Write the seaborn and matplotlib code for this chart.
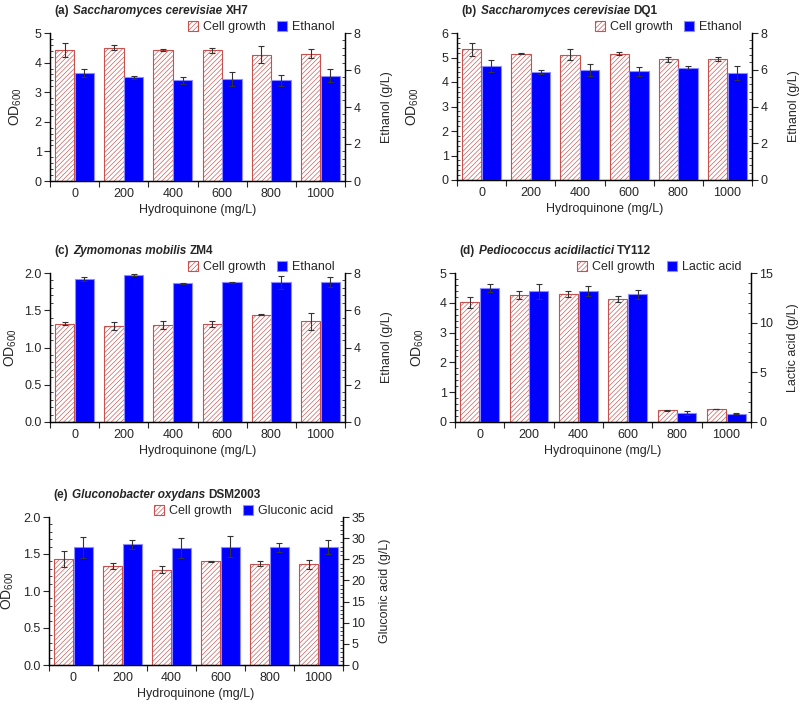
import numpy as np
import pandas as pd
import matplotlib
matplotlib.use('Agg')
import matplotlib.pyplot as plt
from matplotlib.patches import Patch
from matplotlib.ticker import MultipleLocator, FormatStrFormatter
import seaborn as sns

sns.set_style('ticks')
plt.rcParams['font.family'] = ['Liberation Sans', 'DejaVu Sans']
plt.rcParams['mathtext.fontset'] = 'custom'
plt.rcParams['mathtext.rm'] = 'Liberation Sans'
plt.rcParams['hatch.linewidth'] = 0.45

conc = ['0', '200', '400', '600', '800', '1000']

# (a) Saccharomyces cerevisiae XH7
a_od = [4.42, 4.51, 4.42, 4.41, 4.27, 4.30]
a_od_err = [0.24, 0.08, 0.03, 0.08, 0.28, 0.16]
a_prod = [5.83, 5.60, 5.45, 5.51, 5.45, 5.69]
a_prod_err = [0.22, 0.07, 0.18, 0.36, 0.29, 0.34]

# (b) Saccharomyces cerevisiae DQ1
b_od = [5.33, 5.16, 5.12, 5.16, 4.92, 4.93]
b_od_err = [0.25, 0.02, 0.22, 0.05, 0.12, 0.09]
b_prod = [6.20, 5.87, 5.99, 5.91, 6.11, 5.84]
b_prod_err = [0.31, 0.09, 0.33, 0.25, 0.09, 0.38]

# (c) Zymomonas mobilis ZM4
c_od = [1.32, 1.29, 1.30, 1.32, 1.44, 1.35]
c_od_err = [0.02, 0.05, 0.05, 0.04, 0.01, 0.11]
c_prod = [7.67, 7.89, 7.44, 7.51, 7.51, 7.51]
c_prod_err = [0.10, 0.05, 0.03, 0.03, 0.35, 0.27]

# (d) Pediococcus acidilactici TY112
d_od = [4.02, 4.26, 4.30, 4.13, 0.39, 0.43]
d_od_err = [0.19, 0.13, 0.11, 0.11, 0.01, 0.01]
d_prod = [13.48, 13.14, 13.18, 12.84, 0.91, 0.84]
d_prod_err = [0.40, 0.74, 0.47, 0.44, 0.17, 0.08]

# (e) Gluconobacter oxydans DSM2003
e_od = [1.43, 1.34, 1.29, 1.40, 1.37, 1.36]
e_od_err = [0.11, 0.04, 0.05, 0.01, 0.03, 0.06]
e_prod = [27.8, 28.5, 27.6, 28.0, 27.8, 27.9]
e_prod_err = [2.4, 1.1, 2.4, 2.5, 1.0, 1.7]

panels = [
    dict(tag='a', species='Saccharomyces cerevisiae', strain='XH7', product='Ethanol',
         od=a_od, od_err=a_od_err, prod=a_prod, prod_err=a_prod_err,
         rect=[50, 33, 295, 148], ylim=(5, 1, 0.2, '%d'), y2lim=(8, 2, 0.4), ylab=-34),
    dict(tag='b', species='Saccharomyces cerevisiae', strain='DQ1', product='Ethanol',
         od=b_od, od_err=b_od_err, prod=b_prod, prod_err=b_prod_err,
         rect=[457, 33, 295, 147], ylim=(6, 1, 0.2, '%d'), y2lim=(8, 2, 0.4), ylab=-44),
    dict(tag='c', species='Zymomonas mobilis', strain='ZM4', product='Ethanol',
         od=c_od, od_err=c_od_err, prod=c_prod, prod_err=c_prod_err,
         rect=[50, 273, 295, 149], ylim=(2, 0.5, 0.1, '%.1f'), y2lim=(8, 2, 0.4), ylab=-39),
    dict(tag='d', species='Pediococcus acidilactici', strain='TY112', product='Lactic acid',
         od=d_od, od_err=d_od_err, prod=d_prod, prod_err=d_prod_err,
         rect=[455, 273, 296, 149], ylim=(5, 1, 0.2, '%d'), y2lim=(15, 5, 1), ylab=-37),
    dict(tag='e', species='Gluconobacter oxydans', strain='DSM2003', product='Gluconic acid',
         od=e_od, od_err=e_od_err, prod=e_prod, prod_err=e_prod_err,
         rect=[49, 517, 294, 148], ylim=(2, 0.5, 0.1, '%.1f'), y2lim=(35, 5, 1), ylab=-41),
]

W, H = 800, 704
RED = '#C8504D'
BLUE = '#0000FF'
BLUE_EDGE = '#8C8CFF'
HATCH = '///////'
FS = 9
BW = 0.39  # width of one bar within a group

fig = plt.figure(figsize=(W / 100, H / 100), dpi=100)

for p in panels:
    x0, top, w, h = p['rect']
    ax = fig.add_axes([x0 / W, (H - top - h) / H, w / W, h / H])
    ax2 = ax.twinx()
    levels = ['Cell growth', p['product']]

    df_od = pd.DataFrame({'conc': conc, 'val': p['od']})
    df_pr = pd.DataFrame({'conc': conc, 'val': p['prod']})

    sns.barplot(data=df_od, x='conc', y='val', order=conc, color='white',
                saturation=1, width=BW, errorbar=None, ax=ax)
    sns.barplot(data=df_pr, x='conc', y='val', order=conc, color=BLUE,
                saturation=1, width=BW, errorbar=None, ax=ax2)

    # dodge: cell growth left half of the group, product right half
    for b in ax.patches:
        b.set_x(b.get_x() - 0.2)
        b.set_hatch(HATCH)
        b.set_edgecolor(RED)
        b.set_linewidth(0.8)
    for b in ax2.patches:
        b.set_x(b.get_x() + 0.2)
        b.set_edgecolor(BLUE_EDGE)
        b.set_linewidth(0.8)

    xc = [b.get_x() + b.get_width() / 2 for b in ax.patches]
    ax.errorbar(xc, p['od'], yerr=p['od_err'], fmt='none', ecolor='#333333',
                elinewidth=0.8, capsize=2, capthick=0.8)
    xc2 = [b.get_x() + b.get_width() / 2 for b in ax2.patches]
    ax2.errorbar(xc2, p['prod'], yerr=p['prod_err'], fmt='none', ecolor='#333333',
                 elinewidth=0.8, capsize=2, capthick=0.8)

    ymax, ymaj, ymin, yfmt = p['ylim']
    ax.set_ylim(0, ymax)
    ax.yaxis.set_major_locator(MultipleLocator(ymaj))
    ax.yaxis.set_minor_locator(MultipleLocator(ymin))
    ax.yaxis.set_major_formatter(FormatStrFormatter(yfmt))
    y2max, y2maj, y2min = p['y2lim']
    ax2.set_ylim(0, y2max)
    ax2.yaxis.set_major_locator(MultipleLocator(y2maj))
    ax2.yaxis.set_minor_locator(MultipleLocator(y2min))

    # x axis: ticks at group boundaries, labels at centres
    n = len(conc)
    ax.set_xlim(-0.5, n - 0.5)
    ax.set_xticks(np.arange(-0.5, n), labels=[''] * (n + 1))
    ax.set_xticks(np.arange(n), labels=conc, minor=True)
    ax.tick_params(axis='x', which='major', direction='out', length=4, width=0.8)
    ax.tick_params(axis='x', which='minor', length=0, labelsize=FS, pad=5)

    ax.tick_params(axis='y', which='major', direction='out', length=4, width=0.8, labelsize=FS, pad=2)
    ax.tick_params(axis='y', which='minor', direction='in', length=2.5, width=0.6)
    ax2.tick_params(axis='y', which='major', direction='out', length=4, width=0.8, labelsize=FS, pad=2)
    ax2.tick_params(axis='y', which='minor', direction='in', length=2.5, width=0.6)

    for a in (ax, ax2):
        a.spines['top'].set_visible(False)
        for s in a.spines.values():
            s.set_linewidth(0.9)
            s.set_color('black')

    ax.set_xlabel('Hydroquinone (mg/L)', fontsize=FS, labelpad=3)
    ax.set_ylabel('OD$_{\\mathrm{600}}$', fontsize=FS + 1, va='center')
    ax.yaxis.set_label_coords(p['ylab'] / w, 0.5)
    ax2.set_ylabel(p['product'] + ' (g/L)', fontsize=FS, va='center')
    ax2.yaxis.set_label_coords(1 + 42 / w, 0.5)

    # title: "(x)" bold, species bold italic, strain bold
    t1 = ax.annotate(f'({p["tag"]})', xy=(0, 1), xycoords='axes fraction',
                     xytext=(3.5, 16), textcoords='offset points',
                     fontsize=8.5, fontweight='bold', va='center', ha='left')
    t2 = ax.annotate(p['species'], xy=(1, 0), xycoords=t1, xytext=(2.5, 0),
                     textcoords='offset points', fontsize=8.5, fontweight='bold',
                     fontstyle='italic', va='bottom', ha='left')
    ax.annotate(p['strain'], xy=(1, 0), xycoords=t2, xytext=(2.5, 0),
                textcoords='offset points', fontsize=8.5, fontweight='bold',
                va='bottom', ha='left')

    handles = [Patch(facecolor='white', edgecolor=RED, hatch=HATCH, linewidth=0.8),
               Patch(facecolor=BLUE, edgecolor=BLUE_EDGE, linewidth=0.8)]
    ax.legend(handles, levels, loc='center right', bbox_to_anchor=(1 - 10 / w, 1 + 6 / h),
              ncol=2, frameon=False, fontsize=FS, handlelength=0.8, handleheight=0.8,
              handletextpad=0.4, columnspacing=0.9, borderpad=0, borderaxespad=0)

fig.savefig('out.png', dpi=100)
